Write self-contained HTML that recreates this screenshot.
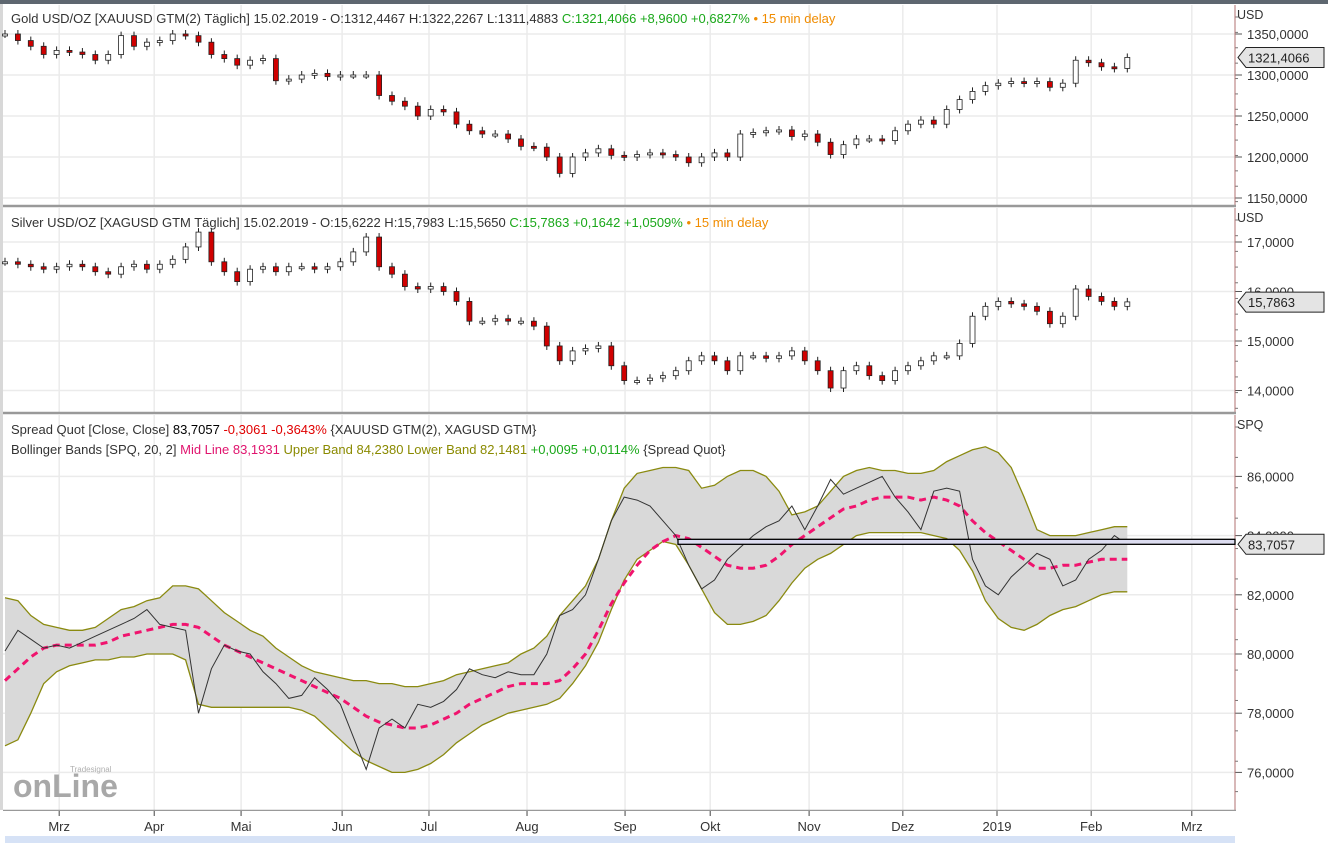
<!DOCTYPE html>
<html><head><meta charset="utf-8">
<style>
html,body{margin:0;padding:0;background:#fff;}
svg{display:block;font-family:"Liberation Sans",Tahoma,sans-serif;}
</style></head>
<body>
<svg id="chart" width="1328" height="843" viewBox="0 0 1328 843" xmlns="http://www.w3.org/2000/svg"></svg>
<script>
// ---- data (one value every 3 trading days, starting 15.02.2018) ----
const months = ["Mrz","Apr","Mai","Jun","Jul","Aug","Sep","Okt","Nov","Dez","2019","Feb","Mrz"];
const monthDay = [12.6,34.7,54.9,78.4,98.6,121.4,144.2,164,187,208.8,230.7,252.6,276];
const goldTicks = [1350,1300,1250,1200,1150];
const silverTicks = [17,16,15,14];
const spqTicks = [86,84,82,80,78,76];
const gold = [1350,1342,1335,1325,1330,1328,1325,1318,1325,1348,1335,1340,1342,1350,1348,1340,1325,1320,1312,1318,1320,1293,1295,1300,1302,1298,1300,1300,1300,1275,1268,1262,1250,1258,1255,1240,1232,1228,1228,1222,1213,1212,1200,1180,1200,1205,1210,1202,1200,1203,1205,1203,1200,1193,1200,1205,1200,1228,1230,1232,1233,1225,1228,1218,1203,1215,1222,1222,1220,1232,1240,1245,1240,1258,1270,1280,1287,1290,1292,1290,1292,1285,1290,1318,1315,1310,1308,1321.4];
const silver = [16.6,16.55,16.5,16.45,16.5,16.55,16.5,16.4,16.35,16.5,16.55,16.45,16.55,16.65,16.9,17.2,16.6,16.4,16.2,16.45,16.5,16.4,16.5,16.5,16.45,16.5,16.6,16.8,17.1,16.5,16.35,16.1,16.05,16.1,16.0,15.8,15.4,15.4,15.45,15.4,15.4,15.3,14.9,14.6,14.8,14.85,14.9,14.5,14.2,14.2,14.25,14.3,14.4,14.6,14.7,14.6,14.4,14.7,14.7,14.65,14.7,14.8,14.6,14.4,14.05,14.4,14.5,14.3,14.2,14.4,14.5,14.6,14.7,14.7,14.95,15.5,15.7,15.8,15.75,15.7,15.6,15.35,15.5,16.05,15.9,15.8,15.7,15.79];
const spread = [80.1,80.8,80.5,80.2,80.3,80.2,80.4,80.6,80.8,81.0,81.2,81.5,81.0,80.9,80.8,78.0,79.5,80.3,80.1,80.0,79.4,79.0,78.5,78.6,79.2,78.8,78.3,77.2,76.1,77.5,77.8,77.5,78.3,78.2,78.4,78.8,79.5,79.3,79.2,79.4,79.3,79.3,80.0,81.3,81.5,82.0,83.2,84.5,85.3,85.2,85.0,84.5,84.0,83.0,82.2,82.5,83.2,83.6,84.0,84.3,84.5,85.0,84.2,85.0,85.9,85.4,85.6,85.8,86.0,85.3,84.8,84.2,85.5,85.6,85.5,83.2,82.3,82.0,82.6,83.0,83.4,83.2,82.3,82.5,83.2,83.5,84.0,83.7];
const midLine = [79.1,79.5,79.9,80.2,80.3,80.3,80.3,80.3,80.4,80.6,80.7,80.8,80.9,81.0,81.0,80.9,80.6,80.3,80.1,79.9,79.7,79.5,79.3,79.1,78.9,78.7,78.5,78.2,77.9,77.7,77.6,77.5,77.5,77.6,77.8,78.0,78.3,78.5,78.7,78.9,79.0,79.0,79.0,79.1,79.5,80.0,80.8,81.7,82.4,83.0,83.5,83.8,84.0,83.9,83.6,83.3,83.0,82.9,82.9,83.0,83.3,83.7,84.0,84.3,84.6,84.9,85.0,85.2,85.3,85.3,85.3,85.2,85.3,85.2,85.0,84.5,84.1,83.8,83.5,83.2,82.9,82.9,83.0,83.0,83.1,83.2,83.2,83.2];
const upperBand = [81.9,81.8,81.3,81.0,80.9,80.8,80.8,80.9,81.2,81.5,81.6,81.8,81.9,82.3,82.3,82.2,81.8,81.4,81.1,80.8,80.6,80.2,79.9,79.6,79.4,79.3,79.2,79.1,79.1,79.0,79.0,78.9,78.9,79.0,79.1,79.3,79.4,79.5,79.6,79.7,80.0,80.2,80.6,81.3,81.8,82.3,83.2,84.5,85.6,86.1,86.2,86.3,86.3,86.2,85.6,85.7,86.0,86.2,86.2,86.0,85.5,84.7,84.8,85.0,85.5,86.0,86.2,86.3,86.2,86.2,86.1,86.1,86.2,86.5,86.7,86.9,87.0,86.8,86.3,85.3,84.2,84.0,84.0,84.0,84.1,84.2,84.3,84.3];
const lowerBand = [76.9,77.1,78.0,79.0,79.4,79.6,79.7,79.8,79.8,79.9,79.9,80.0,80.0,80.0,79.8,78.3,78.2,78.2,78.2,78.2,78.2,78.2,78.2,78.1,77.9,77.5,77.1,76.7,76.4,76.2,76.0,76.0,76.1,76.3,76.6,77.0,77.3,77.6,77.8,78.0,78.1,78.2,78.3,78.5,79.0,79.6,80.4,81.5,82.5,83.2,83.5,83.8,83.7,83.0,82.2,81.4,81.0,81.0,81.1,81.3,81.8,82.4,82.9,83.2,83.4,83.7,84.0,84.1,84.1,84.1,84.1,84.1,84.0,83.9,83.5,82.8,81.8,81.2,80.9,80.8,81.0,81.3,81.5,81.6,81.8,82.0,82.1,82.1];
const lastGold = "1321,4066", lastSilver = "15,7863", lastSpq = "83,7057";
const lastGoldV = 1321.4066, lastSilverV = 15.7863, lastSpqV = 83.7057;

// ---- scales ----
const PL = 5, PR = 1235;
const xDay = d => PL + 4.3 * d;
const xIdx = i => xDay(i * 3);
const yGold = v => 75 - (v - 1300) * 41 / 50;
const ySilver = v => 341 - (v - 15) * 49.5;
const ySpq = v => 654 - (v - 80) * 29.6;

const svg = document.getElementById('chart');
const NS = 'http://www.w3.org/2000/svg';
function mk(tag, attrs, parent) {
  const e = document.createElementNS(NS, tag);
  for (const k in attrs) e.setAttribute(k, attrs[k]);
  (parent || svg).appendChild(e);
  return e;
}
function txt(x, y, s, fill, size, parent, anchor) {
  const t = mk('text', {x: x, y: y, fill: fill, 'font-size': size || 12.5, 'text-anchor': anchor || 'start'}, parent);
  t.textContent = s;
  return t;
}

// frame
const topBar = mk('rect', {x: 0, y: 0, width: 1328, height: 4, fill: '#5e6770'});


mk('rect', {x: 0, y: 4, width: 3, height: 806, fill: '#d8d8d8'});

const panels = [
  {name: 'gold-panel', y0: 5, y1: 205, ticks: goldTicks, y: yGold, fmt: v => v.toFixed(4).replace('.', ','), unit: 'USD'},
  {name: 'silver-panel', y0: 208, y1: 412, ticks: silverTicks, y: ySilver, fmt: v => v.toFixed(4).replace('.', ','), unit: 'USD'},
  {name: 'spread-panel', y0: 415, y1: 810, ticks: spqTicks, y: ySpq, fmt: v => v.toFixed(4).replace('.', ','), unit: 'SPQ'}
];
panels.forEach(p => {
  const g = mk('g', {});
  
  
  mk('rect', {x: 3, y: p.y0, width: PR - 3, height: p.y1 - p.y0, fill: '#fff'}, g);
  monthDay.forEach(d => mk('line', {x1: xDay(d), x2: xDay(d), y1: p.y0, y2: p.y1, stroke: '#ebebeb', 'stroke-width': 1.5}, g));
  const ax = mk('g', {}, g);
  
  
  p.ticks.forEach(v => {
    const yy = p.y(v);
    mk('line', {x1: 3, x2: PR, y1: yy, y2: yy, stroke: '#ebebeb', 'stroke-width': 1.5}, g);
    mk('line', {x1: PR, x2: PR + 7, y1: yy, y2: yy, stroke: '#555'}, ax);
    const t = txt(PR + 12, yy + 5, p.fmt(v), '#333', 13, ax);
    
    
  });
  for (let yy = p.y0 + 12; yy < p.y1; yy += (p.y1 - p.y0) / 13) mk('line', {x1: PR, x2: PR + 3, y1: yy, y2: yy, stroke: '#777'}, ax);
  const u = txt(PR + 2, p.y0 + 14, p.unit, '#333', 12.5, ax);
  
  
  mk('line', {x1: PR, x2: PR, y1: p.y0, y2: p.y1, stroke: '#b07070', 'stroke-width': 1}, g);
  mk('line', {x1: 3, x2: PR + 1, y1: p.y1 + 1, y2: p.y1 + 1, stroke: '#999', 'stroke-width': 2.5}, g);
});

// candles
function candles(series, yf, name) {
  const g = mk('g', {});
  
  
  series.forEach((c, i) => {
    const o = i ? series[i - 1] : c;
    const x = xIdx(i);
    const hi = Math.min(yf(o), yf(c)) - 4, lo = Math.max(yf(o), yf(c)) + 4;
    mk('line', {x1: x, x2: x, y1: hi, y2: lo, stroke: '#222', 'stroke-width': 1}, g);
    const yt = Math.min(yf(o), yf(c)), h = Math.max(2, Math.abs(yf(o) - yf(c)));
    const r = mk('rect', {x: x - 2.5, y: yt, width: 5, height: h, fill: c < o ? '#d00000' : '#fff', stroke: '#222', 'stroke-width': 0.8}, g);
    
    
  });
}
candles(gold, yGold, 'gold-candles');
candles(silver, ySilver, 'silver-candles');

// bollinger bands
const pts = (arr, yf) => arr.map((v, i) => xIdx(i).toFixed(1) + ',' + yf(v).toFixed(1));
const bandG = mk('g', {});


const fillPts = pts(upperBand, ySpq).concat(pts(lowerBand, ySpq).reverse());
const bf = mk('polygon', {points: fillPts.join(' '), fill: '#d9d9d9'}, bandG);


const ub = mk('polyline', {points: pts(upperBand, ySpq).join(' '), fill: 'none', stroke: '#8a8a10', 'stroke-width': 1.3}, bandG);


const lb = mk('polyline', {points: pts(lowerBand, ySpq).join(' '), fill: 'none', stroke: '#8a8a10', 'stroke-width': 1.3}, bandG);


const ml = mk('polyline', {points: pts(midLine, ySpq).join(' '), fill: 'none', stroke: '#f0146e', 'stroke-width': 3, 'stroke-dasharray': '7,5'}, bandG);


const sl = mk('polyline', {points: pts(spread, ySpq).join(' '), fill: 'none', stroke: '#333', 'stroke-width': 1}, bandG);



// horizontal marker box
const hb = mk('rect', {x: 678, y: ySpq(lastSpqV) - 5, width: PR - 678, height: 5, fill: '#dcdcf0', stroke: '#000', 'stroke-width': 1.3});



// last value labels
function lastLabel(yy, s, name) {
  const g = mk('g', {});
  
  
  mk('polygon', {points: `${PR+3},${yy} ${PR+11},${yy-10} ${1324},${yy-10} ${1324},${yy+10} ${PR+11},${yy+10}`, fill: '#e4e4e4', stroke: '#222'}, g);
  txt(PR + 13, yy + 5, s, '#222', 13, g);
}
lastLabel(yGold(lastGoldV), lastGold, 'gold-last-price');
lastLabel(ySilver(lastSilverV), lastSilver, 'silver-last-price');
lastLabel(ySpq(lastSpqV), lastSpq, 'spread-last-value');

// x axis
const xg = mk('g', {});


mk('rect', {x: 0, y: 811, width: 1328, height: 32, fill: '#fff'}, xg);
months.forEach((m, i) => {
  const x = xDay(monthDay[i]);
  mk('line', {x1: x, x2: x, y1: 811, y2: 816, stroke: '#444'}, xg);
  const t = txt(x, 831, m, '#333', 13, xg, 'middle');
  
  
});
const nav = mk('rect', {x: 5, y: 836, width: 1230, height: 7, fill: '#d6e2f6'});


mk('rect', {x: 1236, y: 811, width: 92, height: 32, fill: '#fff'});

// watermark
const wm = txt(13, 797, 'onLine', '#a8a8a8', 32, null);
wm.setAttribute('font-weight', 'bold');


const wm2 = txt(70, 772, 'Tradesignal', '#b0b0b0', 8);



// headers
function header(y, parts, name) {
  const t = mk('text', {x: 11, y: y, 'font-size': 13});
  
  
  parts.forEach(([s, c]) => { const sp = mk('tspan', {fill: c}, t); sp.textContent = s; });
}
header(23, [["Gold USD/OZ [XAUUSD GTM(2) Täglich] 15.02.2019 - O:1312,4467 H:1322,2267 L:1311,4883 ", '#333'], ["C:1321,4066 +8,9600 +0,6827%", '#1aa81a'], [" • 15 min delay", '#f08c00']], 'gold-header');
header(227, [["Silver USD/OZ [XAGUSD GTM Täglich] 15.02.2019 - O:15,6222 H:15,7983 L:15,5650 ", '#333'], ["C:15,7863 +0,1642 +1,0509%", '#1aa81a'], [" • 15 min delay", '#f08c00']], 'silver-header');
header(434, [["Spread Quot [Close, Close] ", '#333'], ["83,7057 ", '#000'], ["-0,3061 -0,3643% ", '#e00000'], ["{XAUUSD GTM(2), XAGUSD GTM}", '#333']], 'spread-header');
header(454, [["Bollinger Bands [SPQ, 20, 2] ", '#333'], ["Mid Line 83,1931 ", '#e0146e'], ["Upper Band 84,2380 Lower Band 82,1481 ", '#8a8a00'], ["+0,0095 +0,0114% ", '#1aa81a'], ["{Spread Quot}", '#333']], 'bollinger-header');
</script>
</body></html>
